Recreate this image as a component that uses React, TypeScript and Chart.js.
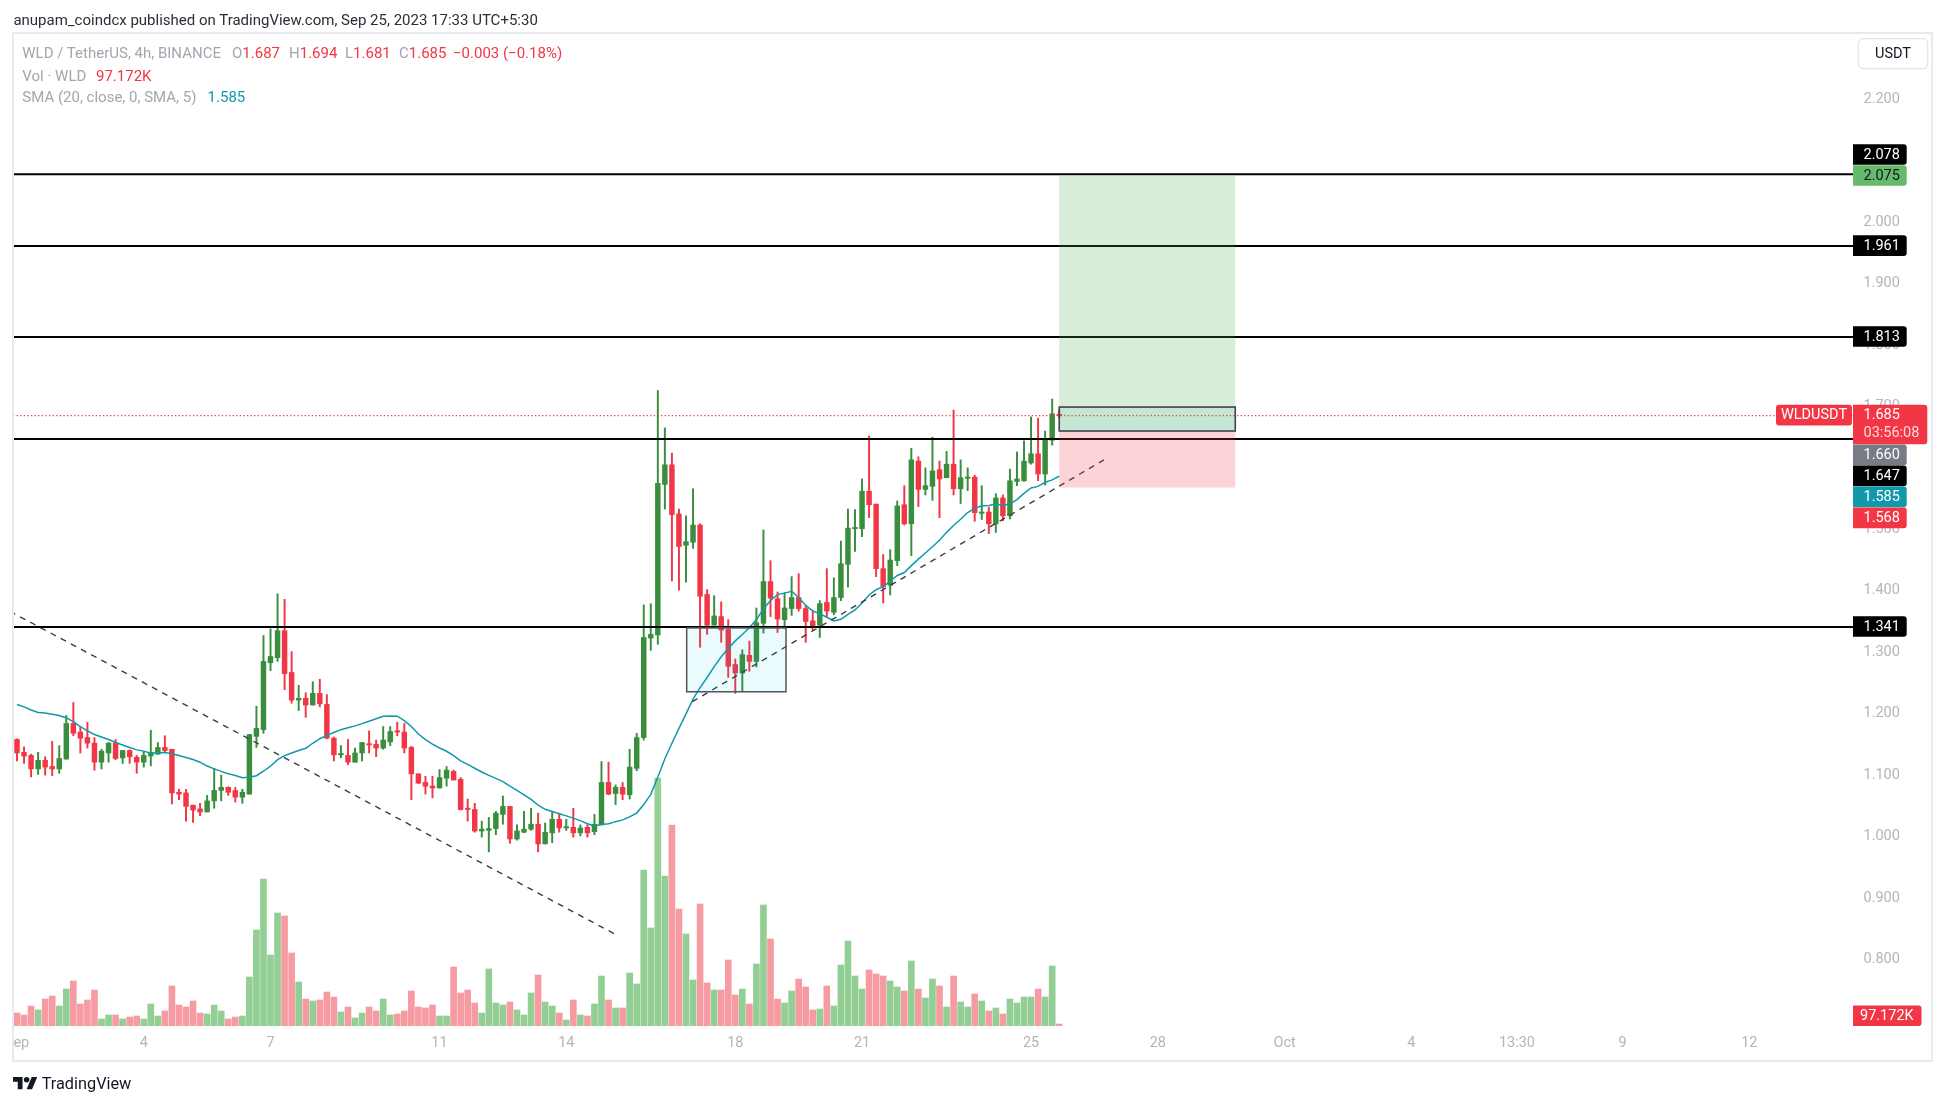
import React, { useEffect, useRef } from "react";
import { Chart, registerables } from "chart.js";

Chart.register(...registerables);

// ---------------- data (WLD/USDT 4h, Binance) ----------------
const opens = [
  1.158, 1.137, 1.132, 1.110, 1.124, 1.114, 1.110, 1.126, 1.184, 1.170,
  1.161, 1.152, 1.121, 1.136, 1.152, 1.128, 1.140, 1.129, 1.121, 1.131,
  1.134, 1.145, 1.142, 1.072, 1.071, 1.051, 1.045, 1.040, 1.058, 1.075,
  1.080, 1.075, 1.064, 1.069, 1.163, 1.174, 1.283, 1.291, 1.335, 1.267,
  1.222, 1.225, 1.214, 1.233, 1.215, 1.160, 1.133, 1.132, 1.121, 1.136,
  1.151, 1.150, 1.144, 1.154, 1.172, 1.170, 1.145, 1.102, 1.088, 1.082,
  1.079, 1.095, 1.106, 1.093, 1.046, 1.044, 1.009, 1.010, 1.013, 1.036,
  1.049, 0.996, 1.007, 1.012, 1.020, 0.988, 1.006, 1.028, 1.014, 1.015,
  1.006, 1.015, 1.008, 1.019, 1.088, 1.070, 1.080, 1.068, 1.111, 1.161,
  1.323, 1.328, 1.573, 1.605, 1.525, 1.474, 1.479, 1.507, 1.394, 1.344,
  1.358, 1.337, 1.280, 1.266, 1.295, 1.285, 1.347, 1.415, 1.387, 1.353,
  1.371, 1.389, 1.371, 1.351, 1.344, 1.381, 1.365, 1.389, 1.443, 1.501,
  1.501, 1.562, 1.541, 1.436, 1.409, 1.449, 1.540, 1.509, 1.611, 1.565,
  1.570, 1.597, 1.584, 1.606, 1.566, 1.583, 1.585, 1.526, 1.528, 1.509,
  1.551, 1.522, 1.578, 1.579, 1.608, 1.623, 1.590, 1.645, 1.687,
];
const highs = [
  1.159, 1.146, 1.134, 1.137, 1.130, 1.155, 1.148, 1.197, 1.218, 1.178,
  1.186, 1.161, 1.142, 1.153, 1.158, 1.140, 1.141, 1.132, 1.138, 1.173,
  1.153, 1.164, 1.142, 1.077, 1.077, 1.051, 1.054, 1.067, 1.111, 1.100,
  1.081, 1.080, 1.077, 1.166, 1.212, 1.327, 1.338, 1.395, 1.386, 1.301,
  1.246, 1.234, 1.252, 1.256, 1.231, 1.162, 1.148, 1.158, 1.144, 1.153,
  1.172, 1.157, 1.179, 1.179, 1.186, 1.184, 1.147, 1.102, 1.098, 1.098,
  1.109, 1.114, 1.108, 1.096, 1.061, 1.054, 1.025, 1.031, 1.041, 1.066,
  1.049, 1.019, 1.041, 1.046, 1.038, 1.022, 1.041, 1.038, 1.028, 1.046,
  1.019, 1.019, 1.036, 1.122, 1.121, 1.084, 1.088, 1.142, 1.168, 1.377,
  1.379, 1.726, 1.665, 1.624, 1.533, 1.522, 1.566, 1.509, 1.402, 1.392,
  1.382, 1.353, 1.289, 1.304, 1.318, 1.372, 1.499, 1.449, 1.398, 1.397,
  1.423, 1.428, 1.376, 1.367, 1.384, 1.436, 1.421, 1.481, 1.533, 1.532,
  1.582, 1.652, 1.541, 1.459, 1.467, 1.546, 1.571, 1.632, 1.618, 1.600,
  1.650, 1.611, 1.627, 1.694, 1.613, 1.600, 1.588, 1.571, 1.536, 1.558,
  1.556, 1.598, 1.626, 1.644, 1.683, 1.681, 1.660, 1.712, 1.694,
];
const lows = [
  1.123, 1.119, 1.097, 1.101, 1.100, 1.099, 1.103, 1.126, 1.164, 1.136,
  1.144, 1.108, 1.110, 1.121, 1.125, 1.119, 1.119, 1.103, 1.113, 1.115,
  1.134, 1.138, 1.053, 1.060, 1.025, 1.023, 1.034, 1.040, 1.046, 1.058,
  1.067, 1.056, 1.054, 1.069, 1.145, 1.168, 1.270, 1.285, 1.239, 1.217,
  1.205, 1.194, 1.214, 1.211, 1.159, 1.123, 1.128, 1.117, 1.121, 1.123,
  1.136, 1.130, 1.142, 1.148, 1.164, 1.136, 1.060, 1.086, 1.069, 1.063,
  1.079, 1.082, 1.092, 1.043, 1.025, 1.007, 0.999, 0.975, 1.003, 1.020,
  0.989, 0.994, 1.006, 1.010, 0.975, 0.988, 0.990, 1.007, 1.010, 0.999,
  1.001, 0.999, 1.003, 1.019, 1.068, 1.052, 1.060, 1.061, 1.107, 1.157,
  1.303, 1.313, 1.533, 1.416, 1.401, 1.414, 1.469, 1.308, 1.329, 1.344,
  1.316, 1.259, 1.233, 1.236, 1.269, 1.276, 1.331, 1.358, 1.332, 1.339,
  1.360, 1.367, 1.316, 1.335, 1.324, 1.357, 1.361, 1.384, 1.406, 1.464,
  1.488, 1.519, 1.423, 1.380, 1.393, 1.441, 1.507, 1.457, 1.537, 1.556,
  1.547, 1.519, 1.584, 1.556, 1.542, 1.563, 1.513, 1.516, 1.493, 1.495,
  1.514, 1.517, 1.571, 1.578, 1.606, 1.579, 1.572, 1.637, 1.681,
];
const closes = [
  1.136, 1.131, 1.110, 1.124, 1.113, 1.110, 1.127, 1.184, 1.168, 1.160,
  1.152, 1.121, 1.139, 1.152, 1.127, 1.140, 1.130, 1.121, 1.132, 1.137,
  1.145, 1.140, 1.071, 1.069, 1.049, 1.043, 1.040, 1.058, 1.075, 1.080,
  1.072, 1.064, 1.072, 1.166, 1.176, 1.285, 1.293, 1.335, 1.265, 1.222,
  1.225, 1.214, 1.233, 1.216, 1.160, 1.133, 1.134, 1.121, 1.136, 1.153,
  1.149, 1.144, 1.157, 1.171, 1.170, 1.144, 1.102, 1.087, 1.082, 1.079,
  1.096, 1.108, 1.092, 1.044, 1.044, 1.009, 1.012, 1.013, 1.038, 1.049,
  0.996, 1.009, 1.012, 1.020, 0.988, 1.007, 1.028, 1.014, 1.015, 1.006,
  1.014, 1.006, 1.020, 1.088, 1.069, 1.080, 1.069, 1.113, 1.161, 1.324,
  1.329, 1.575, 1.605, 1.524, 1.472, 1.480, 1.507, 1.391, 1.344, 1.359,
  1.336, 1.277, 1.266, 1.296, 1.285, 1.348, 1.415, 1.388, 1.354, 1.372,
  1.389, 1.371, 1.350, 1.343, 1.379, 1.367, 1.389, 1.444, 1.502, 1.503,
  1.562, 1.540, 1.436, 1.407, 1.450, 1.538, 1.509, 1.613, 1.565, 1.571,
  1.595, 1.582, 1.606, 1.566, 1.584, 1.584, 1.527, 1.528, 1.509, 1.551,
  1.522, 1.579, 1.582, 1.611, 1.623, 1.590, 1.645, 1.688, 1.685,
];
// volume in thousands of WLD
const volumesK = [
  632, 535, 972, 778, 1312, 1458, 972, 1798, 2187, 1069,
  1264, 1750, 340, 535, 535, 340, 437, 486, 340, 1069,
  486, 729, 1944, 1021, 923, 1215, 632, 583, 1021, 729,
  340, 437, 486, 2381, 4666, 7144, 3451, 5492, 5346, 3548,
  2138, 1312, 1215, 1264, 1652, 1409, 680, 923, 389, 632,
  923, 729, 1312, 535, 583, 729, 1701, 923, 875, 1021,
  486, 486, 2867, 1604, 1750, 1118, 632, 2770, 1118, 1021,
  1166, 778, 535, 1604, 2479, 1166, 972, 632, 292, 1264,
  535, 486, 1069, 2430, 1264, 875, 875, 2576, 2041, 7582,
  4763, 12053, 7290, 9769, 5686, 4471, 2236, 5929, 2090, 1750,
  1750, 3208, 1507, 1798, 1069, 3013, 5881, 4228, 1312, 1118,
  1701, 2284, 1895, 778, 826, 1944, 972, 2965, 4131, 2430,
  1798, 2722, 2527, 2430, 2187, 1895, 1701, 3159, 1798, 1361,
  2284, 1944, 923, 2430, 1166, 923, 1555, 1215, 729, 875,
  583, 1312, 1118, 1409, 1409, 1798, 1409, 2916, 97.172,
];
// SMA(20) values for the first bars (earlier history is off-screen)
const smaLead = [
  1.215, 1.211, 1.206, 1.202, 1.201, 1.199, 1.197, 1.193, 1.187, 1.179,
  1.172, 1.166, 1.162, 1.158, 1.153, 1.149, 1.145, 1.141, 1.139,
];
const SMA_LEN = 20;
const smaValue = 1.585;

const levelLines = [2.078, 1.961, 1.813, 1.647, 1.341];
const lastPrice = 1.685;
const countdown = "03:56:08";
const positionTool = { start: 148, end: 173, entry: 1.66, target: 2.075, stop: 1.568, markTop: 1.699 };
const blueBox = { x0: 95.1, x1: 109.2, low: 1.2356, high: 1.3395 };
const trendDown = [{ x: -1, y: 1.3665 }, { x: 84.9, y: 0.8413 }];
const trendUp = [{ x: 95.9, y: 1.2195 }, { x: 154.5, y: 1.614 }];

const xTickIdx = [0, 18, 36, 60, 78, 102, 120, 144, 162, 180, 198, 213, 228, 246];
const xTickLabels = ["Sep", "4", "7", "11", "14", "18", "21", "25", "28", "Oct", "4", "13:30", "9", "12"];
const priceTicks = [0.8, 0.9, 1.0, 1.1, 1.2, 1.3, 1.4, 1.5, 1.6, 1.7, 1.8, 1.9, 2.0, 2.1, 2.2];
const xMin = -0.568;
const xMax = 260.72;
const yMin = 0.6916;
const yMax = 2.3062;
const volMax = 48211;

// ---------------- styles ----------------
const UP = "#388e3c";
const DOWN = "#f23645";
const VOL_UP = "#93ce95";
const VOL_DOWN = "#f79ba2";
const TEAL = "#0f99a9";
const FONT = "Roboto, 'Noto Sans', sans-serif";
const AXIS_TEXT = "#b2b5be";
const AXIS_PX = 14.5;

const idx = closes.map((_, i) => i);
const isUp = idx.map((i) => closes[i] >= opens[i]);
const smaValues = idx.map((i) =>
  i < smaLead.length
    ? smaLead[i]
    : closes.slice(i - SMA_LEN + 1, i + 1).reduce((s, c) => s + c, 0) / SMA_LEN
);

const last = closes.length - 1;
const change = closes[last] - closes[last - 1];
const changePct = (change / closes[last - 1]) * 100;
const fmtSigned = (v: number, d: number) => (v < 0 ? "\u2212" : "+") + Math.abs(v).toFixed(d);

function hLine(v: number) {
  return [
    { x: xMin, y: v },
    { x: xMax, y: v },
  ];
}

const overlayPlugin = {
  id: "tvOverlay",
  afterDatasetsDraw(chart: any) {
    const { ctx, chartArea: a, scales } = chart;
    const xs = scales.x;
    const ys = scales.y;
    ctx.save();
    ctx.beginPath();
    ctx.rect(a.left, a.top, a.right - a.left, a.bottom - a.top);
    ctx.clip();

    // rectangle drawing
    const bx0 = xs.getPixelForValue(blueBox.x0);
    const bx1 = xs.getPixelForValue(blueBox.x1);
    const by0 = ys.getPixelForValue(blueBox.high);
    const by1 = ys.getPixelForValue(blueBox.low);
    ctx.fillStyle = "rgba(0,188,212,0.08)";
    ctx.fillRect(bx0, by0, bx1 - bx0, by1 - by0);
    ctx.strokeStyle = "#50535e";
    ctx.lineWidth = 1.5;
    ctx.strokeRect(bx0, by0, bx1 - bx0, by1 - by0);

    // long position tool
    const px0 = xs.getPixelForValue(positionTool.start);
    const px1 = xs.getPixelForValue(positionTool.end);
    const yT = ys.getPixelForValue(positionTool.target);
    const yE = ys.getPixelForValue(positionTool.entry);
    const yS = ys.getPixelForValue(positionTool.stop);
    const yM = ys.getPixelForValue(positionTool.markTop);
    ctx.fillStyle = "rgba(76,175,80,0.22)";
    ctx.fillRect(px0, yT, px1 - px0, yE - yT);
    ctx.fillStyle = "rgba(242,54,69,0.22)";
    ctx.fillRect(px0, yE, px1 - px0, yS - yE);
    ctx.fillStyle = "rgba(0,150,136,0.09)";
    ctx.fillRect(px0, yM, px1 - px0, yE - yM);
    ctx.strokeStyle = "#40434b";
    ctx.lineWidth = 1.6;
    ctx.strokeRect(px0, yM, px1 - px0, yE - yM);
    ctx.restore();
  },
  afterDraw(chart: any) {
    const { ctx, chartArea: a, scales } = chart;
    const ys = scales.y;
    const rowH = 20.6;
    const gap = 0.4;
    ctx.save();
    ctx.font = `${AXIS_PX}px ${FONT}`;
    ctx.textBaseline = "middle";

    type Lab = { v: number; rows: string[]; bg: string; fg: string; prio: number; w: number; top: number; h: number };
    const raw = [
      ...levelLines.map((v) => ({ v, rows: [v.toFixed(3)], bg: "#000000", fg: "#ffffff", prio: 1, w: 53.7 })),
      { v: positionTool.target, rows: [positionTool.target.toFixed(3)], bg: "#66bb6a", fg: "#131722", prio: 5, w: 53.7 },
      { v: positionTool.entry, rows: [positionTool.entry.toFixed(3)], bg: "#787b86", fg: "#ffffff", prio: 1, w: 53.7 },
      { v: positionTool.stop, rows: [positionTool.stop.toFixed(3)], bg: DOWN, fg: "#ffffff", prio: 1, w: 53.7 },
      { v: smaValue, rows: [smaValue.toFixed(3)], bg: TEAL, fg: "#ffffff", prio: 1, w: 53.7 },
      { v: lastPrice, rows: [lastPrice.toFixed(3), countdown], bg: DOWN, fg: "#ffffff", prio: 10, w: 74.3 },
    ];
    const labs: Lab[] = raw
      .map((r) => {
        const h = r.rows.length > 1 ? 39.3 : rowH;
        return { ...r, h, top: ys.getPixelForValue(r.v) - 10.8 };
      })
      .sort((p, q) => p.top - q.top);
    for (let pass = 0; pass < 12; pass++) {
      for (let i = 0; i < labs.length - 1; i++) {
        const A = labs[i];
        const B = labs[i + 1];
        if (B.top < A.top + A.h + gap) {
          if (B.prio > A.prio) A.top = B.top - gap - A.h;
          else B.top = A.top + A.h + gap;
        }
      }
    }

    const box = (x: number, y: number, w: number, h: number, color: string, r: number[]) => {
      ctx.fillStyle = color;
      ctx.beginPath();
      if ((ctx as any).roundRect) (ctx as any).roundRect(x, y, w, h, r);
      else ctx.rect(x, y, w, h);
      ctx.fill();
    };

    // symbol label on the price line
    const lp = labs.find((l) => l.v === lastPrice)!;
    box(a.right - 77, lp.top, 76, rowH, DOWN, [3, 3, 3, 3]);
    ctx.fillStyle = "#ffffff";
    ctx.textAlign = "center";
    ctx.fillText("WLDUSDT", a.right - 39, lp.top + rowH / 2 + 0.5);

    ctx.textAlign = "left";
    for (const l of labs) {
      box(a.right, l.top, l.w, l.h, l.bg, [0, 3, 3, 0]);
      l.rows.forEach((t, r) => {
        ctx.fillStyle = r === 0 ? l.fg : "rgba(255,255,255,0.82)";
        ctx.fillText(t, a.right + 10.5, l.top + 10.8 + r * 17.9);
      });
    }

    // volume label
    const volText = volumesK[last].toFixed(3) + "K";
    box(a.right, a.bottom - 20.6, 68.5, 20.6, DOWN, [0, 3, 3, 0]);
    ctx.fillStyle = "#ffffff";
    ctx.fillText(volText, a.right + 7, a.bottom - 10.1);

    // currency button
    ctx.strokeStyle = "#e0e3eb";
    ctx.lineWidth = 1.2;
    ctx.fillStyle = "#ffffff";
    ctx.beginPath();
    if ((ctx as any).roundRect) (ctx as any).roundRect(a.right + 5.3, 38.6, 69.4, 30, 5);
    else ctx.rect(a.right + 5.3, 38.6, 69.4, 30);
    ctx.fill();
    ctx.stroke();
    ctx.fillStyle = "#131722";
    ctx.textAlign = "center";
    ctx.fillText("USDT", a.right + 40, 54);

    // pane frame
    ctx.strokeStyle = "#e9eaef";
    ctx.lineWidth = 2;
    ctx.strokeRect(1, 33, a.right + 79 - 1, 1028);
    ctx.restore();
  },
};

export default function App() {
  const ref = useRef<HTMLCanvasElement>(null);

  useEffect(() => {
    document.body.style.margin = "0";
    Chart.defaults.font.family = FONT;
    const canvas = ref.current!;
    const candleColors = idx.map((i) => (isUp[i] ? UP : DOWN));
    const chart = new Chart(canvas, {
      type: "bar",
      data: {
        datasets: [
          {
            type: "bar",
            label: "Volume",
            data: idx.map((i) => ({ x: i, y: volumesK[i] })),
            yAxisID: "yVol",
            backgroundColor: idx.map((i) => (isUp[i] ? VOL_UP : VOL_DOWN)),
            barThickness: 6,
            grouped: false,
            borderWidth: 0,
            order: 20,
          } as any,
          {
            type: "bar",
            label: "Wicks",
            data: idx.map((i) => ({ x: i, y: [lows[i], highs[i]] })),
            yAxisID: "y",
            backgroundColor: candleColors,
            barThickness: 1.3,
            grouped: false,
            borderWidth: 0,
            order: 12,
          } as any,
          {
            type: "bar",
            label: "Bodies",
            data: idx.map((i) => ({ x: i, y: [opens[i], closes[i]] })),
            yAxisID: "y",
            backgroundColor: candleColors,
            barThickness: 4.8,
            minBarLength: 1.3,
            grouped: false,
            borderWidth: 0,
            order: 11,
          } as any,
          {
            type: "line",
            label: "SMA 20",
            data: idx.map((i) => ({ x: i, y: smaValues[i] })),
            yAxisID: "y",
            borderColor: TEAL,
            borderWidth: 1.5,
            pointRadius: 0,
            tension: 0,
            order: 10,
          } as any,
          ...levelLines.map(
            (v) =>
              ({
                type: "line",
                label: "Level " + v,
                data: hLine(v),
                yAxisID: "y",
                borderColor: "#000000",
                borderWidth: 2,
                pointRadius: 0,
                order: 3,
              } as any)
          ),
          {
            type: "line",
            label: "Trend down",
            data: trendDown,
            yAxisID: "y",
            borderColor: "#3a3d45",
            borderWidth: 1.4,
            borderDash: [6, 5.5],
            pointRadius: 0,
            order: 4,
          } as any,
          {
            type: "line",
            label: "Trend up",
            data: trendUp,
            yAxisID: "y",
            borderColor: "#3a3d45",
            borderWidth: 1.4,
            borderDash: [6, 5.5],
            pointRadius: 0,
            order: 4,
          } as any,
          {
            type: "line",
            label: "Last price",
            data: hLine(lastPrice),
            yAxisID: "y",
            borderColor: DOWN,
            borderWidth: 1.3,
            borderDash: [1.3, 2.3],
            pointRadius: 0,
            order: 2,
          } as any,
        ],
      },
      options: {
        animation: false,
        responsive: false,
        devicePixelRatio: 1,
        events: [],
        layout: { padding: { left: 1, right: 14, top: 34, bottom: 44 } },
        plugins: { legend: { display: false }, tooltip: { enabled: false } },
        scales: {
          x: {
            type: "linear",
            position: "bottom",
            min: xMin,
            max: xMax,
            offset: false,
            grid: { display: false, drawTicks: false },
            border: { display: false },
            afterBuildTicks: (s: any) => {
              s.ticks = xTickIdx.map((v) => ({ value: v }));
            },
            afterFit: (s: any) => {
              s.height = 35;
              s.paddingLeft = 0;
              s.paddingRight = 0;
            },
            ticks: {
              autoSkip: false,
              maxRotation: 0,
              minRotation: 0,
              padding: 9,
              color: AXIS_TEXT,
              font: { size: AXIS_PX, family: FONT },
              callback: (_v: any, i: number) => xTickLabels[i],
            },
          },
          y: {
            type: "linear",
            position: "right",
            min: yMin,
            max: yMax,
            grid: { display: false, drawTicks: false },
            border: { display: false },
            afterBuildTicks: (s: any) => {
              s.ticks = priceTicks.map((v) => ({ value: v }));
            },
            afterFit: (s: any) => {
              s.width = 79;
              s.paddingTop = 0;
              s.paddingBottom = 0;
            },
            ticks: {
              crossAlign: "near",
              padding: 10.5,
              color: AXIS_TEXT,
              font: { size: AXIS_PX, family: FONT },
              callback: (v: any) => Number(v).toFixed(3),
            },
          },
          yVol: {
            type: "linear",
            display: false,
            min: 0,
            max: volMax,
          },
        },
      } as any,
      plugins: [overlayPlugin],
    });
    return () => chart.destroy();
  }, []);

  const txt = (x: number, y: number, color: string, s: string, size = 15) => (
    <div
      style={{
        position: "absolute",
        left: x,
        top: y - 9,
        height: 18,
        lineHeight: "18px",
        fontSize: size,
        color,
        whiteSpace: "nowrap",
        fontFamily: FONT,
      }}
    >
      {s}
    </div>
  );

  const pair = (x: number, y: number, key: string, val: string) => (
    <div
      style={{
        position: "absolute",
        left: x,
        top: y - 9,
        height: 18,
        lineHeight: "18px",
        fontSize: 15,
        whiteSpace: "nowrap",
        fontFamily: FONT,
      }}
    >
      <span style={{ color: LG }}>{key}</span>
      <span style={{ color: DOWN }}>{val}</span>
    </div>
  );

  const LG = "#a3a6af";
  return (
    <div
      style={{
        position: "relative",
        width: 1946,
        height: 1105,
        overflow: "hidden",
        background: "#ffffff",
        fontFamily: FONT,
      }}
    >
      <canvas
        ref={ref}
        width={1934}
        height={1105}
        style={{ position: "absolute", left: 12, top: 0, width: 1934, height: 1105 }}
      />
      {txt(13.4, 20, "#2a2e39", "anupam_coindcx published on TradingView.com, Sep 25, 2023 17:33 UTC+5:30")}

      {txt(22.3, 53.3, LG, "WLD / TetherUS, 4h, BINANCE")}
      {pair(232, 53.3, "O", opens[last].toFixed(3))}
      {pair(289, 53.3, "H", highs[last].toFixed(3))}
      {pair(345, 53.3, "L", lows[last].toFixed(3))}
      {pair(399, 53.3, "C", closes[last].toFixed(3))}
      {txt(453, 53.3, DOWN, `${fmtSigned(change, 3)} (${fmtSigned(changePct, 2)}%)`)}

      {txt(22.3, 75.7, LG, "Vol \u00b7 WLD")}
      {txt(96, 75.7, DOWN, volumesK[last].toFixed(3) + "K")}
      {txt(22.3, 96.7, LG, "SMA (20, close, 0, SMA, 5)")}
      {txt(207.6, 96.7, TEAL, smaValue.toFixed(3))}

      <svg
        style={{ position: "absolute", left: 12.7, top: 1077 }}
        width={24.5}
        height={12.6}
        viewBox="0 4 36 18.5"
      >
        <path d="M14 22H7V11H0V4h14v18z" fill="#131722" />
        <path d="M28 22h-8l7.5-18h8L28 22z" fill="#131722" />
        <circle cx="20" cy="8" r="4" fill="#131722" />
      </svg>
      {txt(41.7, 1083.5, "#131722", "TradingView", 16.3)}
    </div>
  );
}
